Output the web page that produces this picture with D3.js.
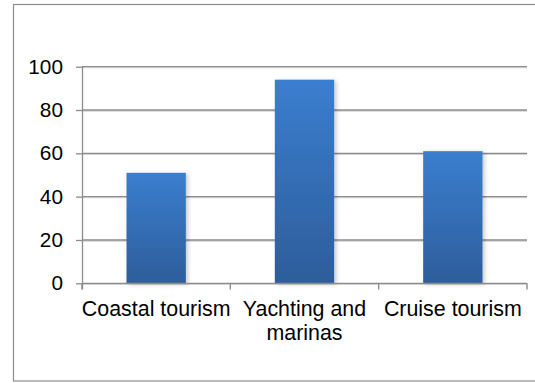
<!DOCTYPE html>
<html>
<head>
<meta charset="utf-8">
<script src="https://cdn.jsdelivr.net/npm/d3@7"></script>
<style>
  html, body { margin: 0; padding: 0; background: #fff; }
  svg { display: block; }
  text { font-family: "Liberation Sans", Arial, sans-serif; fill: #000; }
</style>
</head>
<body>
<div id="chart"></div>
<script>
const categories = ["Coastal tourism", "Yachting and marinas", "Cruise tourism"];
const values = [51, 94, 61];
const yTicks = [0, 20, 40, 60, 80, 100];

const W = 535, H = 383;
const plot = { left: 82, right: 527, top: 66.7, bottom: 283.3 };

const svg = d3.select("#chart").append("svg")
  .attr("width", W).attr("height", H);

const defs = svg.append("defs");
const grad = defs.append("linearGradient").attr("id", "barGrad")
  .attr("x1", 0).attr("y1", 0).attr("x2", 0).attr("y2", 1);
grad.append("stop").attr("offset", "0%").attr("stop-color", "#3b7ecf");
grad.append("stop").attr("offset", "100%").attr("stop-color", "#2d5d9b");

const shadow = defs.append("filter").attr("id", "shadow")
  .attr("x", "-20%").attr("y", "-10%").attr("width", "150%").attr("height", "130%");
shadow.append("feDropShadow").attr("dx", 2).attr("dy", 1).attr("stdDeviation", 2.2)
  .attr("flood-color", "#000").attr("flood-opacity", 0.22);

const lineShadow = defs.append("filter").attr("id", "lshadow")
  .attr("x", "-5%").attr("y", "-200%").attr("width", "110%").attr("height", "500%");
lineShadow.append("feDropShadow").attr("dx", 0).attr("dy", 1).attr("stdDeviation", 0.6)
  .attr("flood-color", "#000").attr("flood-opacity", 0.18);

// outer border
svg.append("rect")
  .attr("x", 13.5).attr("y", 4.5).attr("width", 540).attr("height", 376.5)
  .attr("fill", "none").attr("stroke", "#8c8c8c").attr("stroke-width", 1.2);

const x = d3.scaleBand().domain(categories)
  .range([plot.left, plot.right]).paddingInner(0.6).paddingOuter(0.3);
const y = d3.scaleLinear().domain([0, 100]).range([plot.bottom, plot.top]);

// gridlines
const grid = svg.append("g").attr("filter", "url(#lshadow)");
grid.selectAll("line.grid").data(yTicks.filter(d => d > 0)).join("line")
  .attr("class", "grid")
  .attr("x1", plot.left).attr("x2", plot.right)
  .attr("y1", d => y(d)).attr("y2", d => y(d))
  .attr("stroke", "#8c8c8c").attr("stroke-width", 1.3);

// y axis
const yAxis = svg.append("g")
  .attr("transform", `translate(${plot.left},0)`)
  .call(d3.axisLeft(y).tickValues(yTicks).tickSize(6).tickPadding(13).tickSizeOuter(0));
yAxis.select(".domain").attr("stroke", "#8c8c8c").attr("stroke-width", 1.3)
  .attr("d", `M0.5,${plot.top}V${plot.bottom + 6}`);
yAxis.selectAll(".tick line").attr("stroke", "#8c8c8c").attr("stroke-width", 1.3);
yAxis.selectAll(".tick text").attr("font-size", 20.8).attr("fill", "#000")
  .attr("font-family", "'Liberation Sans', Arial, sans-serif");

// bars
svg.append("g").selectAll("rect.bar").data(categories).join("rect")
  .attr("class", "bar")
  .attr("x", d => x(d))
  .attr("y", (d, i) => y(values[i]))
  .attr("width", x.bandwidth())
  .attr("height", (d, i) => y(0) - y(values[i]))
  .attr("fill", "url(#barGrad)")
  .attr("filter", "url(#shadow)");

// x axis line
const xa = svg.append("g").attr("filter", "url(#lshadow)");
xa.append("line")
  .attr("x1", plot.left).attr("x2", plot.right)
  .attr("y1", plot.bottom).attr("y2", plot.bottom)
  .attr("stroke", "#8c8c8c").attr("stroke-width", 1.3);
const boundaries = [plot.left].concat(categories.map(c => x(c) - x.step() * x.paddingInner() / 2 + x.step()));
xa.selectAll("line.xt").data(boundaries).join("line")
  .attr("class", "xt")
  .attr("x1", d => d).attr("x2", d => d)
  .attr("y1", plot.bottom).attr("y2", plot.bottom + 6)
  .attr("stroke", "#8c8c8c").attr("stroke-width", 1.3);

// category labels, wrapped to the band step
const labels = svg.append("g").selectAll("text.cat").data(categories).join("text")
  .attr("class", "cat")
  .attr("text-anchor", "middle")
  .attr("font-size", 21.4)
  .attr("x", d => x(d) + x.bandwidth() / 2)
  .attr("y", 316);
labels.each(function(d) {
  const t = d3.select(this);
  const words = d.split(" ");
  const maxW = x.step() + 12;
  let line = [];
  let tspan = t.append("tspan").attr("x", x(d) + x.bandwidth() / 2).attr("dy", 0);
  words.forEach(w => {
    line.push(w);
    tspan.text(line.join(" "));
    if (tspan.node().getComputedTextLength() > maxW && line.length > 1) {
      line.pop();
      tspan.text(line.join(" "));
      line = [w];
      tspan = t.append("tspan").attr("x", x(d) + x.bandwidth() / 2).attr("dy", 24).text(w);
    }
  });
});
</script>
</body>
</html>
